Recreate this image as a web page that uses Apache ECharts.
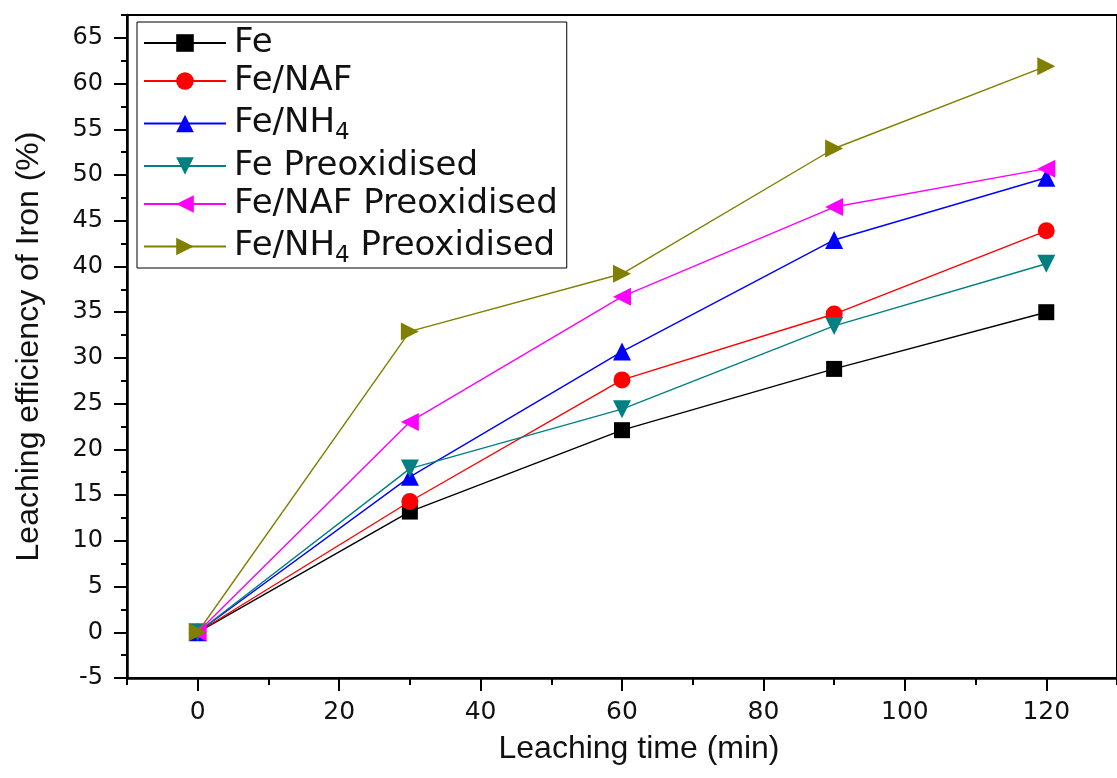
<!DOCTYPE html>
<html>
<head>
<meta charset="utf-8">
<script src="https://cdn.jsdelivr.net/npm/echarts@6/dist/echarts.min.js"></script>
<style>
html,body{margin:0;padding:0;background:#fff;}
#chart{width:1117px;height:778px;}
</style>
</head>
<body>
<div id="chart"></div>
<script>
// ---- data ----
const times = [0, 30, 60, 90, 120];
const seriesNames = ['Fe', 'Fe/NAF', 'Fe/NH4', 'Fe Preoxidised', 'Fe/NAF Preoxidised', 'Fe/NH4 Preoxidised'];
const fe            = [0, 13.2, 22.1, 28.8, 35.0];
const feNaf         = [0, 14.3, 27.6, 34.8, 43.9];
const feNh4         = [0, 17.0, 30.7, 42.9, 49.7];
const fePreox       = [0, 17.9, 24.4, 33.5, 40.3];
const feNafPreox    = [0, 23.0, 36.7, 46.5, 50.7];
const feNh4Preox    = [0, 32.9, 39.2, 52.9, 61.9];
const xTickLabels   = [0, 20, 40, 60, 80, 100, 120];
const xMinorTicks   = [-10, 10, 30, 50, 70, 90, 110, 130];
const yTickLabels   = [-5, 0, 5, 10, 15, 20, 25, 30, 35, 40, 45, 50, 55, 60, 65];
const yMinorTicks   = [-2.5, 2.5, 7.5, 12.5, 17.5, 22.5, 27.5, 32.5, 37.5, 42.5, 47.5, 52.5, 57.5, 62.5, 67.5];

const values = [fe, feNaf, feNh4, fePreox, feNafPreox, feNh4Preox];
const colors = ['#000000', '#ff0000', '#0000ff', '#008080', '#ff00ff', '#808000'];
const symbols = ['rect', 'circle', 'triangle', 'triangle', 'triangle', 'triangle'];
const rotates = [0, 0, 0, 180, 90, -90];
const sizes = [16, 17, 18, 18, 18, 18];

const chart = echarts.init(document.getElementById('chart'), null, {renderer: 'canvas'});

const series = seriesNames.map((name, i) => ({
  name: name,
  type: 'line',
  xAxisIndex: 0,
  yAxisIndex: 0,
  data: times.map((t, j) => [t, values[i][j]]),
  symbol: symbols[i],
  symbolSize: sizes[i],
  symbolRotate: rotates[i],
  showAllSymbol: true,
  lineStyle: {color: colors[i], width: 1.4},
  itemStyle: {color: colors[i]},
  emphasis: {disabled: true},
  z: 2 + i
}));

const tickFont = 'DejaVu Sans';
const titleFont = 'Liberation Sans';

chart.setOption({
  animation: false,
  backgroundColor: '#ffffff',
  grid: {
    left: 127, top: 15, right: -12, bottom: 100,
    show: true, borderColor: '#000', borderWidth: 2, backgroundColor: 'transparent'
  },
  legend: {
    orient: 'vertical',
    left: 137, top: 22,
    padding: [4, 9, 0, 6],
    itemGap: 4,
    itemWidth: 82,
    itemHeight: 22,
    borderColor: '#000',
    borderWidth: 1,
    backgroundColor: '#fff',
    data: seriesNames,
    formatter: function (name) {
      return name.replace('NH4', 'NH{sub|4}');
    },
    textStyle: {
      fontFamily: tickFont,
      fontSize: 34,
      lineHeight: 32,
      color: '#111',
      padding: [0, 0, 0, 3],
      rich: {
        sub: {fontFamily: tickFont, fontSize: 23, lineHeight: 4, padding: [20, 0, 0, 0], color: '#111'}
      }
    }
  },
  xAxis: [
    {
      type: 'value', min: -10, max: 130,
      name: 'Leaching time (min)', nameLocation: 'middle', nameGap: 55,
      nameTextStyle: {fontFamily: titleFont, fontSize: 32, color: '#111', padding: [0, 0, 0, 34]},
      axisLine: {show: true, onZero: false, lineStyle: {color: '#000', width: 2.5}},
      axisTick: {show: true, inside: false, length: 13, lineStyle: {color: '#000', width: 2}, customValues: xTickLabels},
      axisLabel: {show: true, margin: 22, fontFamily: tickFont, fontSize: 25, color: '#111', customValues: xTickLabels},
      splitLine: {show: false}
    },
    {
      type: 'value', min: -10, max: 130, position: 'bottom',
      axisLine: {show: false, onZero: false},
      axisTick: {show: true, inside: false, length: 7, lineStyle: {color: '#000', width: 2}, customValues: xMinorTicks},
      axisLabel: {show: false},
      splitLine: {show: false}
    }
  ],
  yAxis: [
    {
      type: 'value', min: -5, max: 67.5,
      name: 'Leaching efficiency of Iron (%)', nameLocation: 'middle', nameGap: 82, nameRotate: 90,
      nameTextStyle: {fontFamily: titleFont, fontSize: 32, color: '#111'},
      axisLine: {show: true, onZero: false, lineStyle: {color: '#000', width: 2.5}},
      axisTick: {show: true, inside: false, length: 13, lineStyle: {color: '#000', width: 2}, customValues: yTickLabels},
      axisLabel: {show: true, margin: 24, fontFamily: tickFont, fontSize: 24, color: '#111', customValues: yTickLabels},
      splitLine: {show: false}
    },
    {
      type: 'value', min: -5, max: 67.5, position: 'left',
      axisLine: {show: false, onZero: false},
      axisTick: {show: true, inside: false, length: 6, lineStyle: {color: '#000', width: 2}, customValues: yMinorTicks},
      axisLabel: {show: false},
      splitLine: {show: false}
    }
  ],
  series: series
});
</script>
</body>
</html>
